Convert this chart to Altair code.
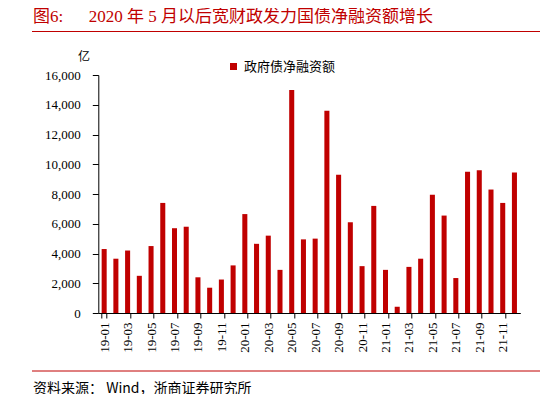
import altair as alt
import pandas as pd

months = [f"{y}-{m:02d}" for y in (19, 20, 21) for m in range(1, 13)]
values = [4300, 3650, 4200, 2500, 4500, 7400, 5700, 5800, 2400, 1700, 2250, 3200,
          6650, 4650, 5200, 2900, 15000, 4950, 5000, 13600, 9300, 6100, 3150, 7200,
          2900, 420, 3100, 3650, 7950, 6550, 2350, 9500, 9600, 8300, 7400, 9450]
series_name = "政府债净融资额"
tick_labels = months[0::2]
y_ticks = list(range(0, 16001, 2000))

NB = "\u00a0"
title_text = "图6:" + NB * 6 + "2020" + NB + "年" + NB + "5" + NB + "月以后宽财政发力国债净融资额增长"
source_text = "资料来源：" + NB + "Wind，浙商证券研究所"
unit_text = "亿"

RED = "#C00000"
SERIF = "Liberation Serif, Times New Roman, Noto Sans CJK SC"
CJK = "Noto Sans CJK SC"

df = pd.DataFrame({"month": months, "value": values, "series": series_name})
one = pd.DataFrame({"a": [0]})

W, H = 422, 238
OX, OY = 90.3, 67

bars = alt.Chart(df).mark_bar(color=RED).encode(
    x=alt.X("month:N", sort=months,
            scale=alt.Scale(paddingInner=0.57, paddingOuter=0.285),
            axis=alt.Axis(title=None, values=tick_labels, tickBand="extent",
                          labelAngle=270, labelFont=SERIF, labelFontSize=13,
                          labelColor="black", domainColor="black", tickColor="black",
                          tickSize=5, labelPadding=4, labelBaseline="middle")),
    y=alt.Y("value:Q", scale=alt.Scale(domain=[0, 16000], nice=False),
            axis=alt.Axis(title=None, values=y_ticks, format=",.0f", grid=False,
                          labelFont=SERIF, labelFontSize=13, labelColor="black",
                          domainColor="black", tickColor="black", tickSize=6,
                          labelPadding=12)),
    color=alt.Color("series:N", scale=alt.Scale(domain=[series_name], range=[RED]),
                    legend=alt.Legend(title=None, orient="none", legendX=128.7, legendY=-15,
                                      symbolType="square", symbolSize=49,
                                      symbolStrokeWidth=0, labelFont=CJK,
                                      labelFontSize=13, labelColor="black",
                                      labelOffset=4)),
)

title = alt.Chart(one).mark_text(
    text=title_text, align="left", baseline="alphabetic", font=SERIF,
    fontSize=17, color=RED).encode(x=alt.value(25 - OX), y=alt.value(14 - OY))

top_line = alt.Chart(one).mark_rule(color=RED, strokeWidth=1).encode(
    x=alt.value(24 - OX), x2=alt.value(532 - OX), y=alt.value(23.5 - OY))

bottom_line = alt.Chart(one).mark_rule(color=RED, strokeWidth=1).encode(
    x=alt.value(24 - OX), x2=alt.value(532 - OX), y=alt.value(363 - OY))

source = alt.Chart(one).mark_text(
    text=source_text, align="left", baseline="middle", font=CJK,
    fontSize=14, color="black").encode(x=alt.value(25 - OX), y=alt.value(381 - OY))

unit = alt.Chart(one).mark_text(
    text=unit_text, align="center", baseline="middle", font=CJK,
    fontSize=12, color="black").encode(x=alt.value(76 - OX), y=alt.value(49 - OY))

chart = alt.layer(bars, title, top_line, bottom_line, source, unit).properties(
    width=W, height=H,
    padding={"left": OX, "top": OY, "right": 532 - OX - W, "bottom": 386 - OY - H},
    autosize=alt.AutoSizeParams(type="none"),
    background="white",
).configure_view(stroke=None)

chart.save("out.html", embed_options={"renderer": "svg", "actions": False})
